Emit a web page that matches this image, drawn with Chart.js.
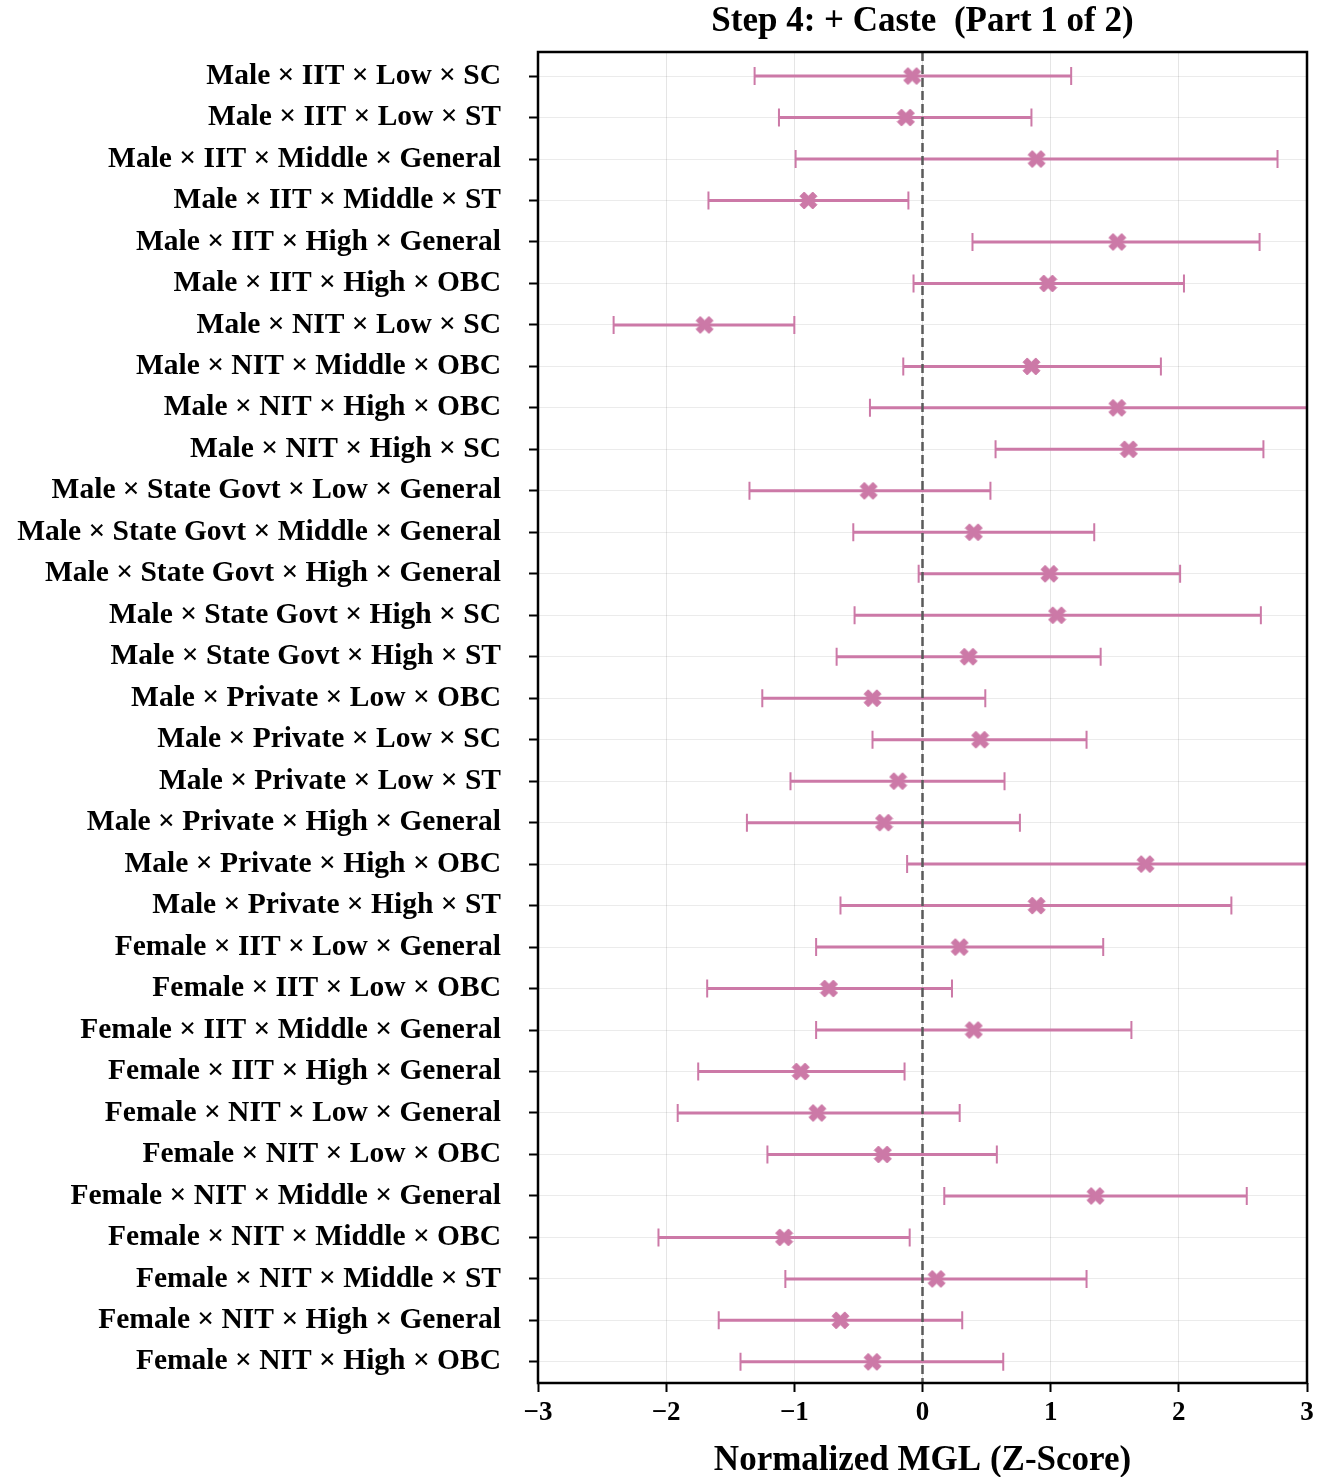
<!DOCTYPE html>
<html lang="en">
<head>
<meta charset="UTF-8">
<title>Step 4: + Caste (Part 1 of 2)</title>
<script src="https://cdn.jsdelivr.net/npm/chart.js"></script>
<style>
  html, body { margin: 0; padding: 0; background: #fff; }
  #wrap { width: 1326px; height: 1477px; }
</style>
</head>
<body>
<div id="wrap"><canvas id="mglChart"></canvas></div>
<script>
  // group labels, top to bottom
  const groups = [
    'Male × IIT × Low × SC',
    'Male × IIT × Low × ST',
    'Male × IIT × Middle × General',
    'Male × IIT × Middle × ST',
    'Male × IIT × High × General',
    'Male × IIT × High × OBC',
    'Male × NIT × Low × SC',
    'Male × NIT × Middle × OBC',
    'Male × NIT × High × OBC',
    'Male × NIT × High × SC',
    'Male × State Govt × Low × General',
    'Male × State Govt × Middle × General',
    'Male × State Govt × High × General',
    'Male × State Govt × High × SC',
    'Male × State Govt × High × ST',
    'Male × Private × Low × OBC',
    'Male × Private × Low × SC',
    'Male × Private × Low × ST',
    'Male × Private × High × General',
    'Male × Private × High × OBC',
    'Male × Private × High × ST',
    'Female × IIT × Low × General',
    'Female × IIT × Low × OBC',
    'Female × IIT × Middle × General',
    'Female × IIT × High × General',
    'Female × NIT × Low × General',
    'Female × NIT × Low × OBC',
    'Female × NIT × Middle × General',
    'Female × NIT × Middle × OBC',
    'Female × NIT × Middle × ST',
    'Female × NIT × High × General',
    'Female × NIT × High × OBC'
  ];

  const estimates = [
    -0.08, -0.13, 0.89, -0.89, 1.52, 0.98, -1.70, 0.85, 1.52, 1.61,
    -0.42, 0.40, 0.99, 1.05, 0.36, -0.39, 0.45, -0.19, -0.30, 1.74,
    0.89, 0.29, -0.73, 0.40, -0.95, -0.82, -0.31, 1.35, -1.08, 0.11,
    -0.64, -0.39
  ];

  const ciLow = [
    -1.31, -1.12, -0.99, -1.67, 0.39, -0.07, -2.41, -0.15, -0.41, 0.57,
    -1.35, -0.54, -0.03, -0.53, -0.67, -1.25, -0.39, -1.03, -1.37, -0.12,
    -0.64, -0.83, -1.68, -0.83, -1.75, -1.91, -1.21, 0.17, -2.06, -1.07,
    -1.59, -1.42
  ];

  const ciHigh = [
    1.16, 0.85, 2.77, -0.11, 2.63, 2.04, -1.00, 1.86, 3.45, 2.66,
    0.53, 1.34, 2.01, 2.64, 1.39, 0.49, 1.28, 0.64, 0.76, 3.50,
    2.41, 1.41, 0.23, 1.63, -0.14, 0.29, 0.58, 2.53, -0.10, 1.28,
    0.31, 0.63
  ];

  const xTicks = [-3, -2, -1, 0, 1, 2, 3];

  const PINK = '#CC79A7';
  const FONT = "'Liberation Serif', 'DejaVu Serif', serif";

  // filled "X" marker like matplotlib's
  function makeMarker(size) {
    const c = document.createElement('canvas');
    c.width = size; c.height = size;
    const g = c.getContext('2d');
    const pts = [[-0.25,-0.5],[0,-0.25],[0.25,-0.5],[0.5,-0.25],[0.25,0],[0.5,0.25],
                 [0.25,0.5],[0,0.25],[-0.25,0.5],[-0.5,0.25],[-0.25,0],[-0.5,-0.25]];
    const s = size - 2;
    g.beginPath();
    pts.forEach((p, i) => {
      const px = size / 2 + p[0] * s, py = size / 2 + p[1] * s;
      if (i === 0) g.moveTo(px, py); else g.lineTo(px, py);
    });
    g.closePath();
    g.fillStyle = PINK;
    g.fill();
    g.strokeStyle = PINK;
    g.lineWidth = 1;
    g.stroke();
    return c;
  }

  const errorBars = {
    id: 'errorBars',
    beforeDatasetsDraw(chart) {
      const { ctx, chartArea, scales: { x, y } } = chart;
      ctx.save();
      ctx.beginPath();
      ctx.rect(chartArea.left, chartArea.top, chartArea.right - chartArea.left, chartArea.bottom - chartArea.top);
      ctx.clip();
      ctx.strokeStyle = PINK;
      groups.forEach((g, i) => {
        const py = y.getPixelForValue(i);
        const x1 = x.getPixelForValue(ciLow[i]);
        const x2 = x.getPixelForValue(ciHigh[i]);
        ctx.lineWidth = 3;
        ctx.beginPath();
        ctx.moveTo(x1, py); ctx.lineTo(x2, py);
        ctx.stroke();
        ctx.lineWidth = 2;
        ctx.beginPath();
        ctx.moveTo(x1, py - 9); ctx.lineTo(x1, py + 9);
        ctx.moveTo(x2, py - 9); ctx.lineTo(x2, py + 9);
        ctx.stroke();
      });
      // zero reference line
      const x0 = x.getPixelForValue(0);
      ctx.strokeStyle = '#5a5a5a';
      ctx.lineWidth = 2.5;
      ctx.setLineDash([9, 4]);
      ctx.beginPath();
      ctx.moveTo(x0, chartArea.top); ctx.lineTo(x0, chartArea.bottom);
      ctx.stroke();
      ctx.restore();
    },
    afterDraw(chart) {
      const { ctx, chartArea } = chart;
      ctx.save();
      ctx.strokeStyle = '#000';
      ctx.lineWidth = 2.5;
      ctx.strokeRect(chartArea.left, chartArea.top, chartArea.right - chartArea.left, chartArea.bottom - chartArea.top);
      ctx.restore();
    }
  };

  new Chart(document.getElementById('mglChart'), {
    type: 'scatter',
    data: {
      datasets: [{
        data: estimates.map((v, i) => ({ x: v, y: i })),
        pointStyle: makeMarker(19),
        pointRadius: 9,
        backgroundColor: PINK,
        borderColor: PINK
      }]
    },
    options: {
      responsive: true,
      maintainAspectRatio: false,
      animation: false,
      layout: { padding: { left: 8, right: 19, top: 0, bottom: 0 } },
      plugins: {
        legend: { display: false },
        tooltip: { enabled: false },
        title: {
          display: true,
          text: 'Step 4: + Caste  (Part 1 of 2)',
          fullSize: false,
          color: '#000',
          font: { family: FONT, size: 35, weight: 'bold' },
          padding: { top: 1, bottom: 9 }
        }
      },
      scales: {
        x: {
          type: 'linear',
          min: -3,
          max: 3,
          afterBuildTicks: (s) => { s.ticks = xTicks.map(v => ({ value: v })); },
          afterFit: (s) => { s.height = 94; },
          border: { display: false },
          grid: {
            color: 'rgba(0,0,0,0.1)',
            lineWidth: 1,
            tickColor: '#000',
            tickLength: 9,
            tickWidth: 2
          },
          ticks: {
            color: '#000',
            padding: 5,
            font: { family: FONT, size: 27, weight: 'bold' },
            callback: (v) => (v < 0 ? '\u2212' + Math.abs(v) : String(v))
          },
          title: {
            display: true,
            text: 'Normalized MGL (Z-Score)',
            color: '#000',
            font: { family: FONT, size: 35, weight: 'bold', lineHeight: 0.9 },
            padding: 0
          }
        },
        y: {
          type: 'linear',
          reverse: true,
          min: -0.58,
          max: 31.51,
          afterBuildTicks: (s) => { s.ticks = groups.map((g, i) => ({ value: i })); },
          afterFit: (s) => { s.width = 530; },
          border: { display: false },
          grid: {
            color: 'rgba(0,0,0,0.08)',
            lineWidth: 1,
            tickColor: '#000',
            tickLength: 9,
            tickWidth: 2
          },
          ticks: {
            color: '#000',
            padding: 28,
            autoSkip: false,
            font: { family: FONT, size: 29.5, weight: 'bold' },
            callback: (v) => groups[v]
          }
        }
      }
    },
    plugins: [errorBars]
  });
</script>
</body>
</html>
